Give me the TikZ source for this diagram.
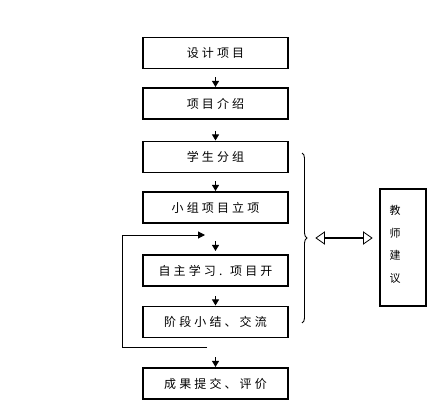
\documentclass[tikz,border=0pt]{standalone}
\usepackage{fontspec}
\newfontfamily\cjk[LetterSpace=26]{Noto Sans CJK SC}
\newfontfamily\cjkplain{Noto Sans CJK SC}
\usetikzlibrary{arrows.meta,calc,shapes.arrows,decorations.pathreplacing}
\begin{document}
\begin{tikzpicture}[x=1pt,y=-1pt,
  box/.style={draw,line width=1.1pt,minimum width=145pt,minimum height=31pt,inner sep=0pt,font=\cjk\fontsize{12}{14}\selectfont},
  stub/.style={line width=1pt,-{Triangle[width=7pt,length=6pt]}},
  loopline/.style={line width=1pt}]
\useasboundingbox (0,0) rectangle (430,412);
\node[box] (b1) at (215.5,53) {设计项目};
\node[box] (b2) at (215.5,103.5) {项目介绍};
\node[box] (b3) at (215.5,157) {学生分组};
\node[box] (b4) at (215.5,207.5) {小组项目立项};
\node[box] (b5) at (215.5,270.5) {自主学习. 项目开};
\node[box] (b6) at (215.5,322) {阶段小结、交流};
\node[box] (b7) at (215.5,383.5) {成果提交、评价};
\foreach \n in {b2,b3,b4,b6,b7}{
  \draw[stub] ($(\n.north)+(0,-10)$) -- ($(\n.north)+(0,-0.5)$);
}
\draw[stub] ($(b5.north)+(0,-13)$) -- ($(b5.north)+(0,-3.5)$);
% feedback loop
\coordinate (lb) at (207,347);
\coordinate (lt) at (205,235);
\draw[loopline] (lb) -- (122,347) -- (122,235);
\draw[loopline,-{Triangle[width=7pt,length=7pt]}] (122,235) -- (lt);
% brace
\draw[line width=0.9pt,decorate,decoration={brace,amplitude=5pt}] (302,153) -- (302,323) coordinate[pos=0.5] (bm);
% double arrow
\node[draw,double arrow,minimum height=56pt,minimum width=12pt,double arrow head extend=4pt,double arrow tip angle=70,inner sep=0pt,line width=0.8pt] (da) at (344,238) {};
% teacher box
\node[draw,line width=1.1pt,minimum width=46pt,minimum height=117pt,inner sep=0pt] (tb) at (403,247.5) {};
\node[align=center,inner sep=0pt,font=\cjkplain\fontsize{11}{22.7}\selectfont] (tt) at (395,244.5) {教\\师\\建\\议};
\end{tikzpicture}
\end{document}
